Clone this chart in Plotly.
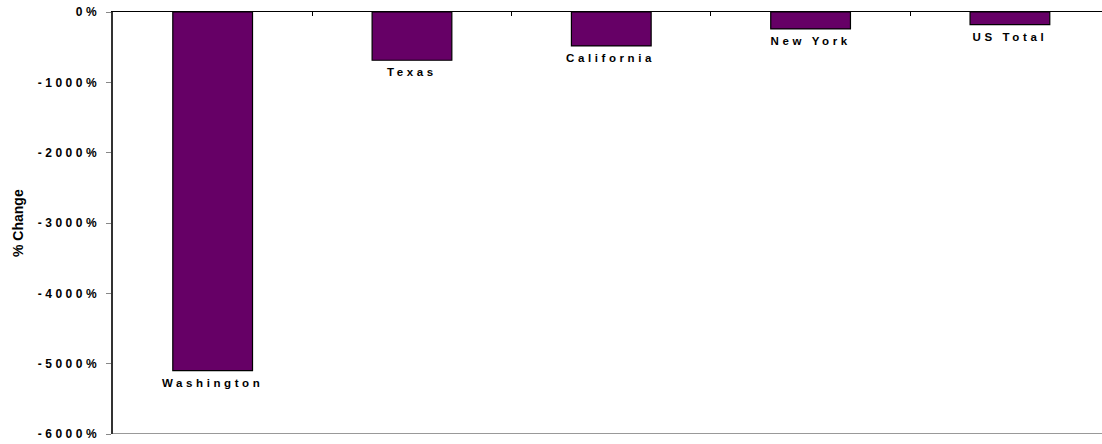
import plotly.graph_objects as go

# Percent change by region
regions = ["Washington", "Texas", "California", "New York", "US Total"]
pct_change = [-5100, -686, -482, -241, -179]

y_ticks = [0, -1000, -2000, -3000, -4000, -5000, -6000]
y_tick_labels = ["0%", "-1000%", "-2000%", "-3000%", "-4000%", "-5000%", "-6000%"]

FONT = "Arial, 'Liberation Sans', Helvetica, sans-serif"
x_pos = list(range(len(regions)))

fig = go.Figure()
fig.add_trace(go.Bar(
    x=x_pos,
    y=pct_change,
    width=0.4,
    marker=dict(color="#660066", line=dict(color="#000000", width=1.2)),
    hoverinfo="skip",
))

# Region names sit just under the end of each bar
for xi, name, val in zip(x_pos, regions, pct_change):
    fig.add_annotation(
        x=xi, y=val, xref="x", yref="y",
        text=f"<b>{name}</b>", showarrow=False,
        yanchor="top", xanchor="center", yshift=-4,
        font=dict(family=FONT, size=11.5, color="#000000"),
    )

fig.add_annotation(
    x=0, y=0.5, xref="paper", yref="paper", xshift=-95,
    text="<b>% Change</b>", textangle=-90, showarrow=False,
    xanchor="center", yanchor="middle",
    font=dict(family=FONT, size=14, color="#000000"),
)

# Grey baseline at the bottom of the value range
fig.add_shape(type="line", xref="paper", yref="y", x0=0, x1=1, y0=-6000, y1=-6000,
              line=dict(color="#999999", width=2))

fig.update_layout(
    width=1102, height=444, autosize=False,
    margin=dict(l=113, r=0, t=12, b=10),
    paper_bgcolor="#ffffff", plot_bgcolor="#ffffff",
    showlegend=False,
    xaxis=dict(
        range=[-0.5, 4.462], side="top", showgrid=False, zeroline=False,
        showline=True, linecolor="#000000", linewidth=1,
        tickmode="array", tickvals=[0.5, 1.5, 2.5, 3.5, 4.5],
        ticks="inside", ticklen=4, tickcolor="#000000", tickwidth=1,
        showticklabels=False,
    ),
    yaxis=dict(
        range=[-6000, 0], showgrid=False, zeroline=False,
        showline=True, linecolor="#333333", linewidth=2,
        tickmode="array", tickvals=y_ticks, ticktext=[f"<b>{t}</b>" for t in y_tick_labels],
        ticks="outside", ticklen=5, tickcolor="#888888", tickwidth=1,
        tickfont=dict(family=FONT, size=12, color="#000000"),
    ),
)

# Widen the letter spacing of tick labels and region names
post_js = """
var gd = document.getElementsByClassName('plotly-graph-div')[0];
gd.querySelectorAll('.ytick text').forEach(function(t){
  t.setAttribute('letter-spacing', '3.5px');
  var x = parseFloat(t.getAttribute('x') || 0);
  t.setAttribute('x', x - 3.5);
});
gd.querySelectorAll('.annotation-text').forEach(function(t){
  if (t.textContent.indexOf('%') === -1) {
    t.setAttribute('letter-spacing', '3.6px');
  }
});
"""

fig.write_html("out.html", post_script=post_js)
